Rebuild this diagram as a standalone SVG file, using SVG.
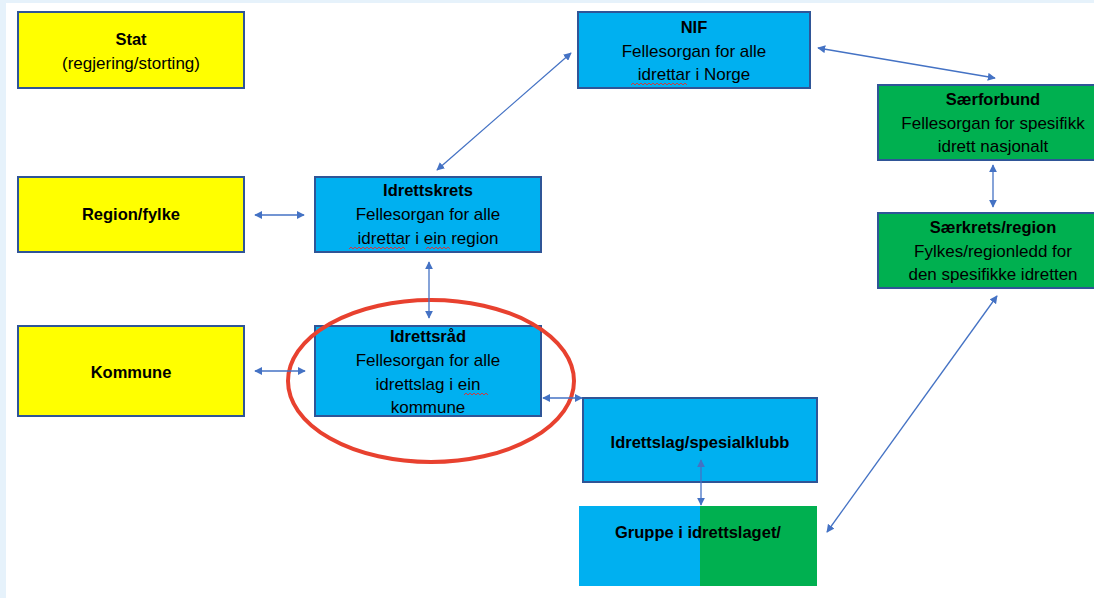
<svg xmlns="http://www.w3.org/2000/svg" width="1094" height="598" viewBox="0 0 1094 598">
<defs>
<style>
.y{fill:#ffff00;stroke:#2f5597;stroke-width:2}
.b{fill:#00b0f0;stroke:#2f5597;stroke-width:2}
.g{fill:#00b050;stroke:#2f5597;stroke-width:2}
text{font-family:"Liberation Sans",Arial,sans-serif;font-size:17px;fill:#000;text-anchor:middle}
.t{font-weight:bold;font-size:16.5px}
.c{stroke:#4472c4;stroke-width:1.3;fill:none;marker-start:url(#ah);marker-end:url(#ah)}
.sq{stroke:#e03030;stroke-width:0.9;fill:none}
</style>
<marker id="ah" viewBox="0 0 10 10" refX="9" refY="5" markerWidth="8" markerHeight="8" markerUnits="userSpaceOnUse" orient="auto-start-reverse">
<path d="M0,0 L10,5 L0,10 z" fill="#4472c4"/>
</marker>
</defs>
<rect x="0" y="0" width="1094" height="598" fill="#ffffff"/>
<rect x="0" y="0" width="6" height="598" fill="#e6f2fb"/>
<rect x="0" y="0" width="1094" height="3" fill="#e6f2fb"/>

<g id="stat">
<rect class="y" x="18" y="12" width="226" height="76"/>
<text class="t" x="131" y="45">Stat</text>
<text x="131" y="69">(regjering/storting)</text>
</g>

<g id="region">
<rect class="y" x="18" y="177" width="226" height="75"/>
<text class="t" x="131" y="220">Region/fylke</text>
</g>

<g id="kommune">
<rect class="y" x="18" y="326" width="226" height="90"/>
<text class="t" x="131" y="378">Kommune</text>
</g>

<g id="nif">
<rect class="b" x="578" y="12" width="232" height="76"/>
<text class="t" x="694" y="33">NIF</text>
<text x="694" y="57">Fellesorgan for alle</text>
<text x="694" y="80">idrettar i Norge</text>
<path class="sq" d="M631,85 l2,-2 l2,2 l2,-2 l2,2 l2,-2 l2,2 l2,-2 l2,2 l2,-2 l2,2 l2,-2 l2,2 l2,-2 l2,2 l2,-2 l2,2 l2,-2 l2,2 l2,-2 l2,2 l2,-2 l2,2 l2,-2 l2,2 l2,-2 l2,2 l2,-2 l2,2"/>
</g>

<g id="idrettskrets">
<rect class="b" x="315" y="177" width="226" height="75"/>
<text class="t" x="428" y="196">Idrettskrets</text>
<text x="428" y="220">Fellesorgan for alle</text>
<text x="428" y="244">idrettar i ein region</text>
<path class="sq" d="M349,249 l2,-2 l2,2 l2,-2 l2,2 l2,-2 l2,2 l2,-2 l2,2 l2,-2 l2,2 l2,-2 l2,2 l2,-2 l2,2 l2,-2 l2,2 l2,-2 l2,2 l2,-2 l2,2 l2,-2 l2,2 l2,-2 l2,2 l2,-2 l2,2 l2,-2 l2,2 M426,249 l2,-2 l2,2 l2,-2 l2,2 l2,-2 l2,2 l2,-2 l2,2 l2,-2 l2,2 l2,-2 l2,2"/>
</g>

<g id="idrettsrad">
<rect class="b" x="315" y="326" width="226" height="90"/>
<text class="t" x="428" y="342">Idrettsråd</text>
<text x="428" y="366">Fellesorgan for alle</text>
<text x="428" y="390">idrettslag i ein</text>
<text x="428" y="413">kommune</text>
<path class="sq" d="M464,395 l2,-2 l2,2 l2,-2 l2,2 l2,-2 l2,2 l2,-2 l2,2 l2,-2 l2,2 l2,-2 l2,2"/>
</g>

<g id="idrettslag">
<rect class="b" x="583" y="398" width="234" height="84"/>
<text class="t" x="700" y="448">Idrettslag/spesialklubb</text>
</g>

<g id="gruppe">
<rect x="579" y="506" width="122" height="80" fill="#00b0f0"/>
<rect x="700" y="506" width="117" height="80" fill="#00b050"/>
<text class="t" x="698" y="538">Gruppe i idrettslaget/</text>
</g>

<g id="saerforbund">
<rect class="g" x="878" y="85" width="218" height="75"/>
<text class="t" x="993" y="105">Særforbund</text>
<text x="993" y="129">Fellesorgan for spesifikk</text>
<text x="993" y="152">idrett nasjonalt</text>
</g>

<g id="saerkrets">
<rect class="g" x="878" y="213" width="218" height="75"/>
<text class="t" x="993" y="233">Særkrets/region</text>
<text x="993" y="257">Fylkes/regionledd for</text>
<text x="993" y="280">den spesifikke idretten</text>
</g>

<ellipse id="highlight" cx="431" cy="381" rx="143" ry="81" fill="none" stroke="#e8412f" stroke-width="4"/>

<g id="connectors">
<line class="c" x1="255" y1="215" x2="304" y2="215"/>
<line class="c" x1="437" y1="170" x2="571" y2="53"/>
<line class="c" x1="818" y1="48" x2="995" y2="78"/>
<line class="c" x1="993" y1="165" x2="993" y2="207"/>
<line class="c" x1="429" y1="262" x2="429" y2="318"/>
<line class="c" x1="255" y1="371" x2="305" y2="371"/>
<line class="c" x1="543" y1="398" x2="582" y2="398"/>
<line class="c" x1="701" y1="460" x2="701" y2="505"/>
<line class="c" x1="997" y1="296" x2="827" y2="532"/>
</g>
</svg>
